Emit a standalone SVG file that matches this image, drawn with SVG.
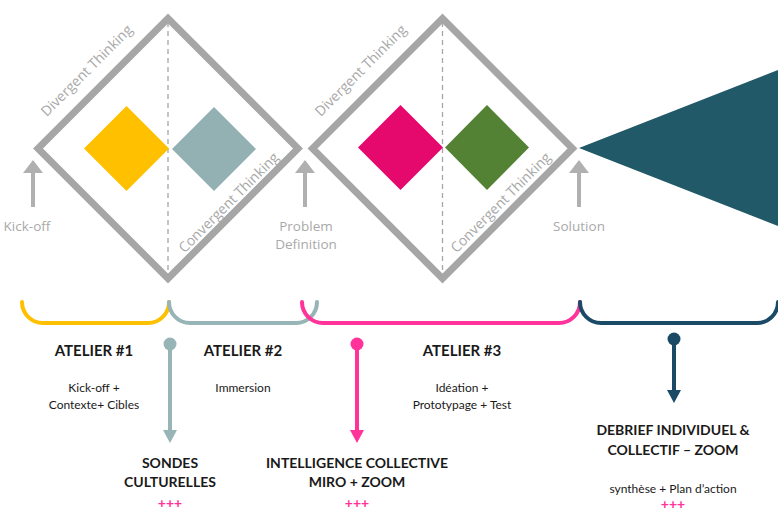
<svg xmlns="http://www.w3.org/2000/svg" width="778" height="511" viewBox="0 0 778 511">
<style>
.frame{fill:none;stroke:#A6A6A6;stroke-width:7;stroke-linejoin:miter}
.dash{stroke:#A6A6A6;stroke-width:1.3;stroke-dasharray:5 4}
.gl{font-family:"Open Sans","Liberation Sans",sans-serif;font-size:13.5px;fill:#A9A9A9}
.dl{font-family:"Open Sans","Liberation Sans",sans-serif;font-size:14px;fill:#A9A9A9}
.up{stroke:#B0B0B0;stroke-width:4}
.uph{fill:#B0B0B0}
.br{fill:none;stroke-width:4;stroke-linecap:round}
.h{font-family:Lato,"Liberation Sans",sans-serif;font-weight:bold;font-size:14px;fill:#1A1A1A;text-anchor:middle}
.a{font-size:15px}
.s{font-family:Lato,"Liberation Sans",sans-serif;font-size:12px;fill:#1A1A1A;text-anchor:middle}
.p{font-family:Lato,"Liberation Sans",sans-serif;font-weight:bold;font-size:14px;fill:#FF3399;text-anchor:middle}
</style>
<rect width="778" height="511" fill="#FFFFFF"/>
<g id="diamond1">
<polygon class="frame" points="168,18.5 298,148.5 168,278.5 38,148.5"/>
<line class="dash" x1="168" y1="22" x2="168" y2="276"/>
<polygon points="126.5,106 169,148.5 126.5,191 84,148.5" fill="#FFC000"/>
<polygon points="214,107 256,149 214,191 172,149" fill="#93B1B3"/>
<text class="dl" transform="translate(90,74) rotate(-45)" text-anchor="middle">Divergent Thinking</text>
<text class="dl" transform="translate(232,206) rotate(-45)" text-anchor="middle">Convergent Thinking</text>
</g>
<g id="diamond2">
<polygon class="frame" points="442.5,18.5 572.5,148.5 442.5,278.5 312.5,148.5"/>
<line class="dash" x1="442.5" y1="22" x2="442.5" y2="276"/>
<polygon points="400.5,105 443,147.5 400.5,190 358,147.5" fill="#E5096E"/>
<polygon points="487,105 529,147.5 487,190 445,147.5" fill="#548235"/>
<text class="dl" transform="translate(364,74) rotate(-45)" text-anchor="middle">Divergent Thinking</text>
<text class="dl" transform="translate(504,206) rotate(-45)" text-anchor="middle">Convergent Thinking</text>
</g>
<g id="delivery">
<polygon points="579,148 778,70 778,226" fill="#215968"/>
</g>
<g id="milestones">
<line class="up" x1="33" y1="207" x2="33" y2="170"/>
<polygon class="uph" points="33,160 23,173 43,173"/>
<text class="gl" x="27" y="231" text-anchor="middle">Kick-off</text>
<line class="up" x1="305" y1="207" x2="305" y2="170"/>
<polygon class="uph" points="305,160 295,173 315,173"/>
<text class="gl" x="306" y="231" text-anchor="middle">Problem</text>
<text class="gl" x="306" y="249" text-anchor="middle">Definition</text>
<line class="up" x1="579" y1="207" x2="579" y2="170"/>
<polygon class="uph" points="579,160 569,173 589,173"/>
<text class="gl" x="579" y="231" text-anchor="middle">Solution</text>
</g>
<g id="connectors">
<path class="br" stroke="#FFC000" d="M22,302 A21,21 0 0 0 43,323 H148 A21,21 0 0 0 169,302"/>
<path class="br" stroke="#97B4B6" d="M169,302 A21,21 0 0 0 190,323 H296 A21,21 0 0 0 317,302"/>
<path class="br" stroke="#FF3399" d="M302,302 A21,21 0 0 0 323,323 H559 A21,21 0 0 0 580,302"/>
<path class="br" stroke="#1B4A67" d="M580,302 A21,21 0 0 0 601,323 H757 A21,21 0 0 0 778,302"/>
<line x1="170" y1="344" x2="170" y2="432" stroke="#97B4B6" stroke-width="4"/>
<circle cx="170" cy="344" r="6.5" fill="#97B4B6"/>
<polygon points="170,443 163,430 177,430" fill="#97B4B6"/>
<line x1="357" y1="344" x2="357" y2="432" stroke="#FF3399" stroke-width="4"/>
<circle cx="357" cy="344" r="6.5" fill="#FF3399"/>
<polygon points="357,443 350,430 364,430" fill="#FF3399"/>
<line x1="674" y1="339" x2="674" y2="392" stroke="#1B4A67" stroke-width="4"/>
<circle cx="674" cy="339" r="6.5" fill="#1B4A67"/>
<polygon points="674,403 667,390 681,390" fill="#1B4A67"/>
</g>
<g id="atelier1">
<text class="h a" x="94" y="356">ATELIER #1</text>
<text class="s" x="94" y="392">Kick-off +</text>
<text class="s" x="94" y="409">Contexte+ Cibles</text>
</g>
<g id="atelier2">
<text class="h a" x="243" y="356">ATELIER #2</text>
<text class="s" x="243" y="392">Immersion</text>
</g>
<g id="atelier3">
<text class="h a" x="462" y="356">ATELIER #3</text>
<text class="s" x="462" y="392">Idéation +</text>
<text class="s" x="462" y="409">Prototypage + Test</text>
</g>
<g id="sondes">
<text class="h" x="170" y="468">SONDES</text>
<text class="h" x="170" y="487">CULTURELLES</text>
<text class="p" x="170" y="508">+++</text>
</g>
<g id="intelligence">
<text class="h" x="357" y="468">INTELLIGENCE COLLECTIVE</text>
<text class="h" x="357" y="487">MIRO + ZOOM</text>
<text class="p" x="357" y="508">+++</text>
</g>
<g id="debrief">
<text class="h" x="673" y="435">DEBRIEF INDIVIDUEL &amp;</text>
<text class="h" x="673" y="455">COLLECTIF – ZOOM</text>
<text class="s" x="673" y="493">synthèse + Plan d’action</text>
<text class="p" x="673" y="509">+++</text>
</g>
</svg>
